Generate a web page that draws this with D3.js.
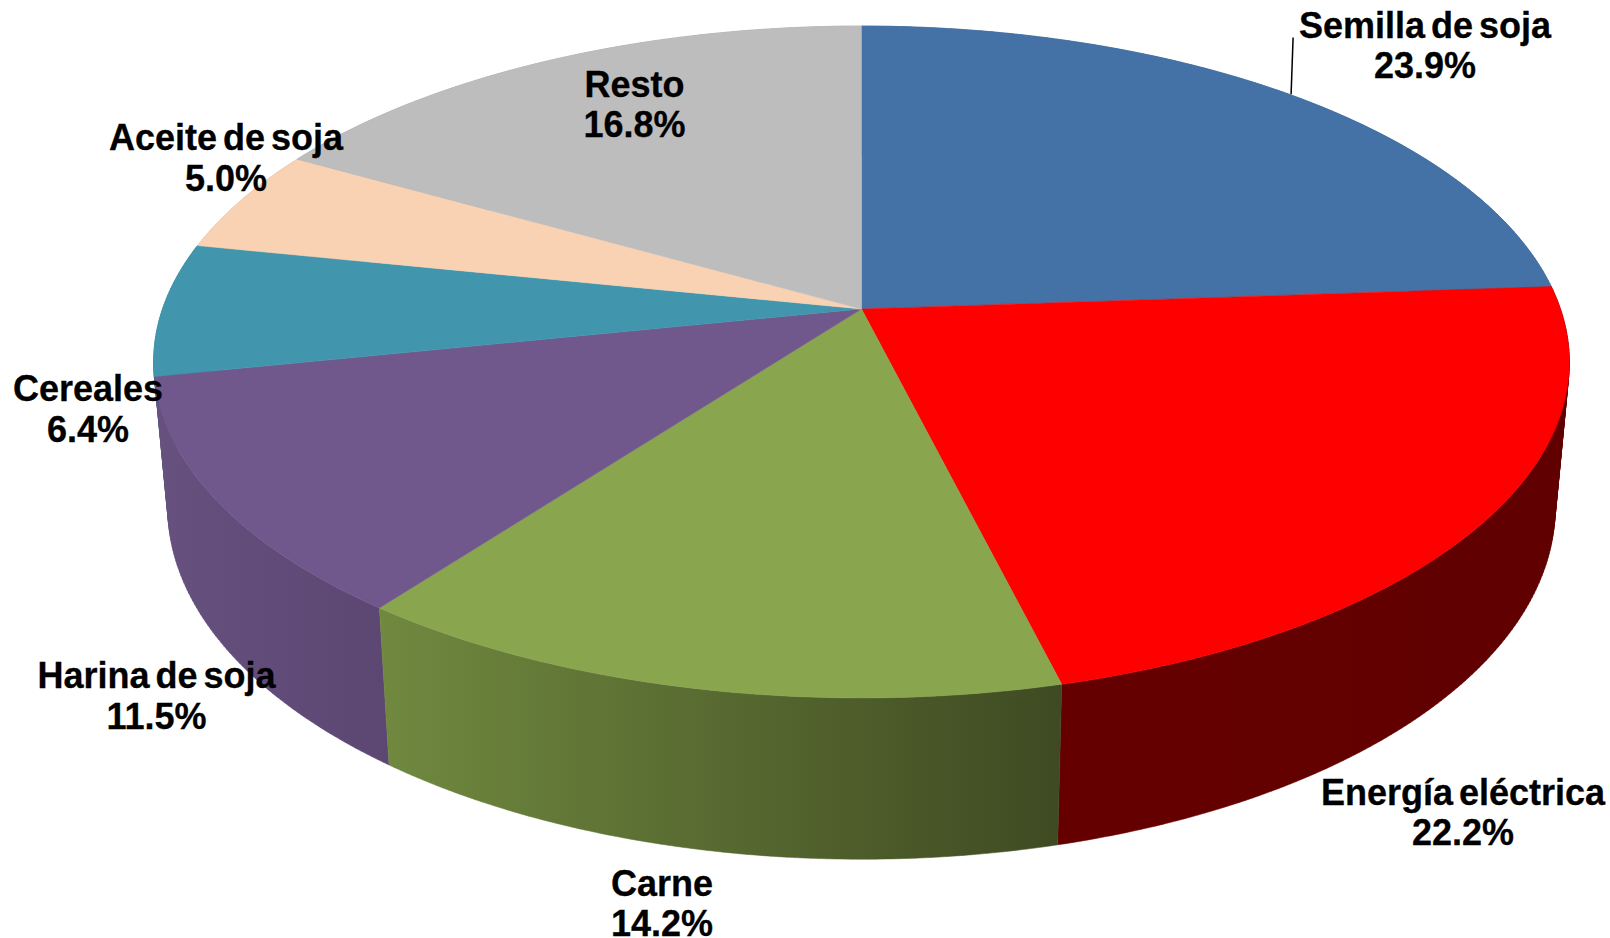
<!DOCTYPE html>
<html><head><meta charset="utf-8">
<script src="https://cdn.jsdelivr.net/npm/d3@7/dist/d3.min.js"></script>
<style>html,body{margin:0;padding:0;background:#fff;overflow:hidden}svg{display:block}
text{font-family:"Liberation Sans",Arial,sans-serif;font-weight:700;font-size:36px;word-spacing:-4px;fill:#000;text-anchor:middle;stroke:#000;stroke-width:.3px}</style>
</head><body><svg id="c" width="1610" height="938"></svg>
<script>
const categories=["Semilla de soja","Energía eléctrica","Carne","Harina de soja","Cereales","Aceite de soja","Resto"];
const shares=[23.9,22.2,14.2,11.5,6.4,5.0,16.8];
const topColors=["#4472a6","#ff0000","#89a54e","#71588c","#4196ae","#f9d2b4","#bdbdbd"];
const wallFrom=["#3a6190","#660000","#70893f","#66517f","#37809a","#d4b299","#a1a1a1"];
const wallTo=["#3a6190","#600000","#3f4a22","#5c4672","#37809a","#d4b299","#a1a1a1"];
const labelCx=[1425,1463,662,156.5,88,226,634.5];
const labelBase=[37.5,804.5,895.5,688,401,150,96.5];
const lineGap=40.5;

const svg=d3.select("#c"),defs=svg.append("defs");
const cx=861.5,k=0.1577;
const topDisc={A:699,B:327.6,y0:309};
const botDisc={A:699*0.98,B:343,y0:452};
const project=(a,d)=>{const u=Math.sin(a),v=Math.cos(a),w=1+k*v;return [cx+d.A*u/w,d.y0-d.B*v/w];};
const pie=d3.pie().sort(null).value(d=>d)(shares);
const arcPts=(s,e,d)=>{const n=Math.max(2,Math.ceil((e-s)/0.01));return d3.range(n+1).map(i=>project(s+(e-s)*i/n,d));};
const line=d3.line();

// walls: back to front; each wall is a strip of same-winding quads so the silhouette follows the generators
const order=pie.map((p,i)=>i).sort((a,b)=>{
  const f=p=>Math.cos((p.startAngle+p.endAngle)/2);return f(pie[b])-f(pie[a]);});
order.forEach(i=>{
  const p=pie[i],t=arcPts(p.startAngle,p.endAngle,topDisc),b=arcPts(p.startAngle,p.endAngle,botDisc);
  const xs=d3.extent(t.concat(b),q=>q[0]);
  const id="w"+i;
  const g=defs.append("linearGradient").attr("id",id).attr("gradientUnits","userSpaceOnUse")
    .attr("x1",xs[0]).attr("x2",xs[1]).attr("y1",0).attr("y2",0);
  g.append("stop").attr("offset",0).attr("stop-color",wallFrom[i]);
  g.append("stop").attr("offset",1).attr("stop-color",wallTo[i]);
  const d=d3.range(t.length-1).map(j=>{
    const q=[t[j],t[j+1],b[j+1],b[j]];
    if(d3.polygonArea(q)<0)q.reverse();
    return line(q)+"Z";
  }).join("");
  svg.append("path").attr("d",d).attr("fill",`url(#${id})`).attr("stroke",`url(#${id})`).attr("stroke-width",0.5);
});
// top faces
const hub=[cx,topDisc.y0];
pie.forEach((p,i)=>{
  svg.append("path").attr("d",line([hub].concat(arcPts(p.startAngle,p.endAngle,topDisc)))+"Z")
    .attr("fill",topColors[i]).attr("stroke",topColors[i]).attr("stroke-width",0.5);
});
// leader for first slice
const m=project((pie[0].startAngle+pie[0].endAngle)/2,topDisc);
svg.append("line").attr("x1",m[0]+2).attr("y1",m[1]).attr("x2",m[0]+4).attr("y2",labelBase[0]).attr("stroke","#000").attr("stroke-width",1.5);
// labels
categories.forEach((c,i)=>{
  svg.append("text").attr("x",labelCx[i]).attr("y",labelBase[i]).text(c);
  svg.append("text").attr("x",labelCx[i]).attr("y",labelBase[i]+lineGap).text(d3.format(".1f")(shares[i])+"%");
});
</script></body></html>
